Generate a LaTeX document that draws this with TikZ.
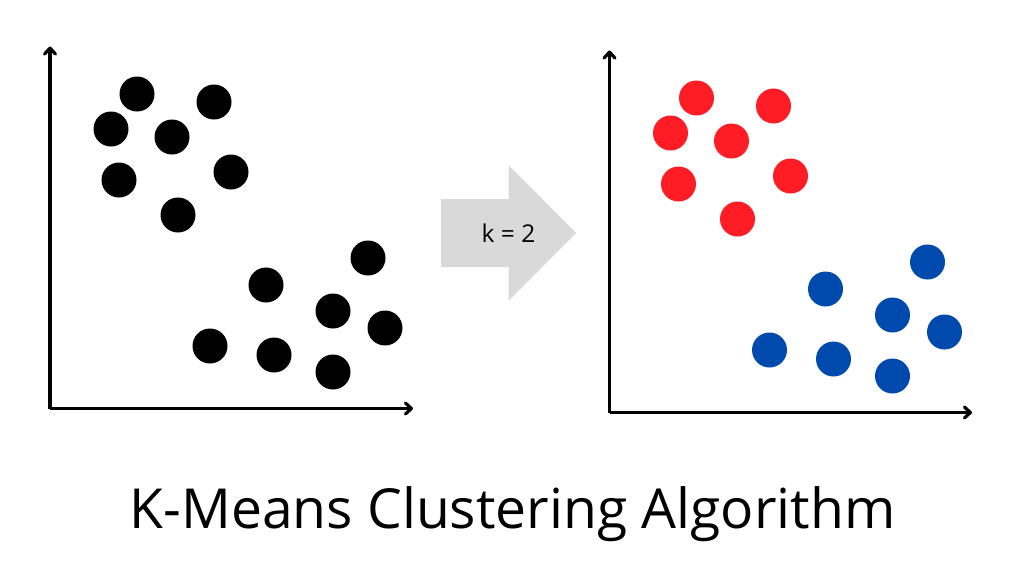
\documentclass[tikz,border=0pt]{standalone}
\usepackage{fontspec}
\setmainfont{Open Sans}
\usetikzlibrary{arrows.meta}
\definecolor{ptred}{HTML}{FF1D25}
\definecolor{ptblue}{HTML}{004AAD}
\definecolor{arrowgrey}{HTML}{D9D9D9}
\tikzset{
  dot/.style={circle,draw=none,minimum size=35pt,inner sep=0pt,outer sep=0pt},
  axis/.style={line width=3.3pt,black,-{Straight Barb[length=6pt,width=11pt,line width=3.2pt,line cap=round,line join=round]}},
}
\begin{document}
\begin{tikzpicture}[x=1pt,y=-1pt]
\useasboundingbox (0,0) rectangle (1024,576);
% left axes
\coordinate (lo) at (50,408.5);
\coordinate (lt) at (50,46.5);
\coordinate (lr) at (413,408.5);
\draw[axis] (lo) -- (lt);
\draw[axis] (lo) -- (lr);
% right axes
\coordinate (ro) at (609.5,412.5);
\coordinate (rt) at (609.5,50.5);
\coordinate (rr) at (972,412.5);
\draw[axis] (ro) -- (rt);
\draw[axis] (ro) -- (rr);
% left points
\foreach \n/\x/\y in {a/137/94,b/214/102,c/111/129,d/172/137,e/119/180,f/231/172,g/178/215}
  \node[dot,fill=black] (l\n) at (\x,\y) {};
\foreach \n/\x/\y in {h/368/258,i/266/285,j/333/311,k/385/328,m/210/346,n/274/355,o/333/372}
  \node[dot,fill=black] (l\n) at (\x,\y) {};
% right points
\foreach \n/\x/\y in {a/696.5/98,b/773.5/106,c/670.5/133,d/731.5/141,e/678.5/184,f/790.5/176,g/737.5/219}
  \node[dot,fill=ptred] (r\n) at (\x,\y) {};
\foreach \n/\x/\y in {h/927.5/262,i/825.5/289,j/892.5/315,k/944.5/332,m/769.5/350,n/833.5/359,o/892.5/376}
  \node[dot,fill=ptblue] (r\n) at (\x,\y) {};
% block arrow
\fill[arrowgrey] (441,199) -- (508.5,199) -- (508.5,165) -- (576,233) -- (508.5,301) -- (508.5,267) -- (441,267) -- cycle;
\node[font=\fontsize{24.5}{28}\selectfont,inner sep=0pt,anchor=base] (k) at (508.5,242.5) {k = 2};
\node[font=\fontsize{55.2}{60}\selectfont,inner sep=0pt,anchor=base] (title) at (512.5,528) {K-Means Clustering Algorithm};
\end{tikzpicture}
\end{document}
